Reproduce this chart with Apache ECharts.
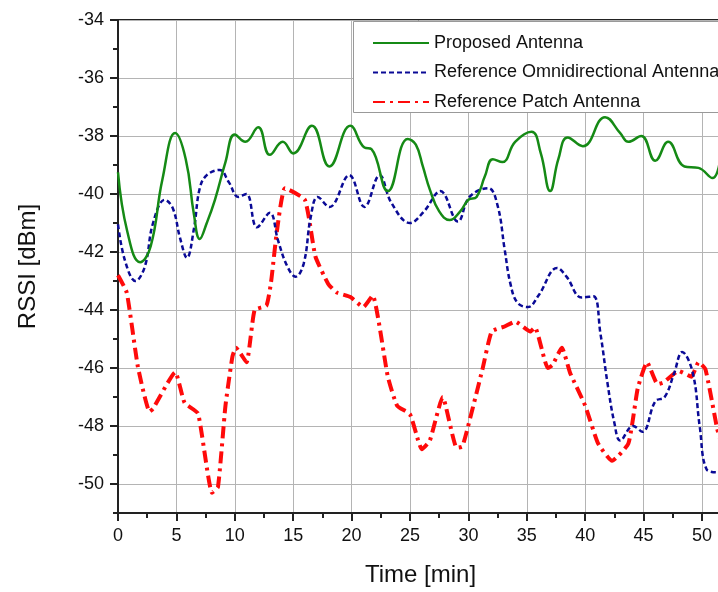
<!DOCTYPE html>
<html><head><meta charset="utf-8">
<script src="https://cdn.jsdelivr.net/npm/echarts@6/dist/echarts.min.js"></script>
<style>html,body{margin:0;padding:0;background:#fff}#c{width:718px;height:592px}</style>
</head><body><div id="c"></div><script>
const seriesNames = ['Proposed Antenna', 'Reference Omnidirectional Antenna', 'Reference Patch Antenna'];
const yMajorTicks = [-50,-48,-46,-44,-42,-40,-38,-36,-34];
const yMinorTicks = [-51,-49,-47,-45,-43,-41,-39,-37,-35];

const greenT = [0,0.8,1.9,2.8,3.8,4.9,5.8,6.5,7.0,7.6,8.3,9.2,10.0,10.9,12.0,13.0,14.1,15.0,16.6,18.1,19.9,21.1,21.7,23.1,24.8,25.5,26.1,26.7,27.5,28.4,29.3,30.0,30.7,31.4,32.1,32.9,34.0,35.4,36.2,37.0,37.7,38.5,39.8,41.7,43.0,43.7,44.8,46.0,47.1,48.5,49.7,50.9,51.6];
const greenV = [-39.25,-41.3,-42.35,-41.8,-39.5,-37.9,-38.8,-40.7,-41.55,-41.0,-40.2,-38.9,-37.95,-38.2,-37.7,-38.65,-38.2,-38.6,-37.65,-39.05,-37.65,-38.4,-38.45,-39.9,-38.1,-38.3,-39.05,-39.85,-40.6,-40.9,-40.6,-40.2,-40.1,-39.4,-38.8,-38.9,-38.2,-37.85,-38.6,-39.9,-38.8,-38.05,-38.35,-37.35,-37.9,-38.2,-38.0,-38.85,-38.2,-39.05,-39.1,-39.45,-38.7];

const blueT = [0,0.6,1.5,2.3,3.0,4.0,4.7,5.3,5.9,6.5,7.0,7.6,8.7,9.5,10.3,11.0,11.9,13.0,13.7,14.5,15.2,15.9,16.5,17.1,18.1,19.8,21.1,22.4,23.4,25.0,26.2,27.6,29.1,30.1,31.7,32.5,33.1,33.6,34.2,35.1,36.0,37.6,38.4,39.7,40.7,41.3,41.9,42.5,43.0,44.1,44.9,46.0,46.8,47.6,48.3,49.2,49.8,50.4,51.3];
const blueV = [-41.05,-42.3,-43.0,-42.5,-41.0,-40.2,-40.5,-41.5,-42.2,-41.2,-39.8,-39.35,-39.17,-39.6,-40.1,-40.0,-41.15,-40.65,-41.6,-42.5,-42.85,-42.4,-40.8,-40.1,-40.45,-39.35,-40.45,-39.35,-40.3,-41.0,-40.6,-39.9,-40.95,-40.1,-39.8,-40.4,-41.9,-43.1,-43.75,-43.9,-43.5,-42.55,-42.85,-43.57,-43.53,-44.8,-46.5,-47.9,-48.5,-48.0,-48.2,-47.15,-47.0,-46.2,-45.45,-46.15,-48.0,-49.5,-49.6];

const redT = [0,0.75,1.7,2.7,3.0,4.9,5.7,6.85,8.05,8.56,9.2,9.8,10.1,11.0,11.7,12.7,13.1,13.6,14.3,16.0,16.9,18.0,18.75,19.9,21.0,21.8,23.1,23.9,25.0,25.7,26.0,26.7,27.8,29.0,29.5,31.2,32.0,33.1,34.0,35.3,35.7,36.8,37.2,38.0,38.7,40.0,41.1,42.3,43.7,44.5,45.3,46.2,46.7,48.0,49.1,49.7,50.3,51.3,51.6];
const redV = [-42.8,-43.4,-45.95,-47.5,-47.4,-46.15,-47.2,-47.57,-50.3,-50.1,-47.3,-45.6,-45.3,-45.8,-44.0,-43.85,-43.05,-41.3,-39.8,-40.2,-42.15,-43.1,-43.4,-43.55,-43.9,-43.5,-46.3,-47.3,-47.6,-48.5,-48.8,-48.5,-47.0,-48.75,-48.7,-46.05,-44.74,-44.57,-44.4,-44.74,-44.6,-46.0,-45.9,-45.3,-46.16,-47.3,-48.6,-49.2,-48.6,-46.7,-45.8,-46.56,-46.5,-46.1,-46.3,-45.8,-46.05,-48.1,-48.5];

const zip = (a, b) => a.map((t, i) => [t, b[i]]);
const FONT = '"Liberation Sans", Arial, sans-serif';

const chart = echarts.init(document.getElementById('c'), null, {renderer: 'canvas'});
chart.setOption({
  animation: false,
  backgroundColor: '#fff',
  grid: {left: 118, top: 20, width: 642.4, height: 493, outerBoundsMode: 'none', containLabel: false,
         show: true, borderColor: '#222', borderWidth: 2, backgroundColor: 'transparent'},
  legend: {
    data: seriesNames, orient: 'vertical', left: 353, top: 21,
    padding: [13, 40, 2, 19], itemWidth: 56, itemHeight: 18, itemGap: 11.5,
    backgroundColor: 'transparent', borderWidth: 0, z: 10,
    itemStyle: {color: 'rgba(0,0,0,0)', borderWidth: 0, opacity: 0},
    textStyle: {fontSize: 18, color: '#111', fontFamily: FONT}
  },
  xAxis: {
    type: 'value', min: 0, max: 55, interval: 5,
    axisLine: {show: true, lineStyle: {color: '#222', width: 2}},
    axisTick: {show: true, length: 8, lineStyle: {color: '#222', width: 2}},
    minorTick: {show: true, splitNumber: 2, length: 5, lineStyle: {color: '#222', width: 2}},
    splitLine: {show: true, lineStyle: {color: '#b4b4b4', width: 1}},
    axisLabel: {fontSize: 18, color: '#111', margin: 14, fontFamily: FONT}
  },
  yAxis: [{
    type: 'value', min: -51, max: -34,
    axisLine: {show: true, lineStyle: {color: '#222', width: 2}},
    axisTick: {show: true, length: 8, customValues: yMajorTicks, lineStyle: {color: '#222', width: 2}},
    splitLine: {show: true, lineStyle: {color: '#b4b4b4', width: 1}},
    axisLabel: {fontSize: 18, color: '#111', margin: 14, customValues: yMajorTicks, fontFamily: FONT},
    name: 'RSSI [dBm]', nameLocation: 'middle', nameGap: 78,
    nameTextStyle: {fontSize: 24, color: '#111', fontFamily: FONT}
  }, {
    type: 'value', min: -51, max: -34, position: 'left',
    axisLine: {show: false},
    axisTick: {show: true, length: 5, customValues: yMinorTicks, lineStyle: {color: '#222', width: 2}},
    splitLine: {show: false},
    axisLabel: {show: false}
  }],
  graphic: [{
    type: 'rect', z: 8, silent: true,
    shape: {x: 353.5, y: 21.5, width: 420, height: 91},
    style: {fill: '#fff', stroke: '#999', lineWidth: 1}
  }, {
    type: 'text', left: 365, top: 563,
    style: {text: 'Time [min]', fontSize: 24, fill: '#111', fontFamily: FONT}
  }],
  series: [{
    name: seriesNames[0], type: 'line', data: zip(greenT, greenV), symbol: 'none',
    smooth: 0.45, lineStyle: {color: '#158a15', width: 2.5}, itemStyle: {color: '#158a15'}, z: 3
  }, {
    name: seriesNames[1], type: 'line', data: zip(blueT, blueV), symbol: 'none',
    smooth: 0.4, lineStyle: {color: '#0a0a96', width: 2.5, type: [5, 3]}, itemStyle: {color: '#0a0a96'}, z: 2
  }, {
    name: seriesNames[2], type: 'line', data: zip(redT, redV), symbol: 'none',
    smooth: 0.15, lineStyle: {color: '#ff0a0a', width: 4, type: [12, 5, 3, 5]}, itemStyle: {color: '#ff0a0a'}, z: 1
  }]
});
</script></body></html>
